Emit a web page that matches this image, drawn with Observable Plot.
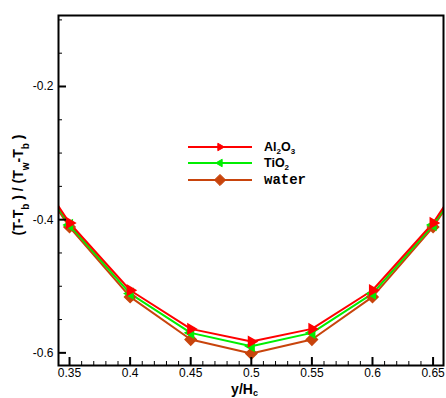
<!DOCTYPE html>
<html>
<head>
<meta charset="utf-8">
<script src="https://cdn.jsdelivr.net/npm/d3@7"></script>
<script src="https://cdn.jsdelivr.net/npm/@observablehq/plot@0.6"></script>
<style>
  html, body { margin: 0; padding: 0; background: #fff; }
  svg { display: block; }
</style>
</head>
<body>
<div id="chart"></div>
<script>
// ---- data ----
const xs = [0.30, 0.35, 0.40, 0.45, 0.50, 0.55, 0.60, 0.65, 0.70];
const al2o3 = [-0.268, -0.405, -0.506, -0.564, -0.583, -0.564, -0.506, -0.405, -0.268];
const tio2  = [-0.272, -0.408, -0.511, -0.570, -0.590, -0.570, -0.511, -0.408, -0.272];
const water = [-0.276, -0.411, -0.516, -0.580, -0.601, -0.580, -0.516, -0.411, -0.276];

const xMajor = [0.35, 0.40, 0.45, 0.50, 0.55, 0.60, 0.65];
const xMinor = [0.36, 0.37, 0.38, 0.39, 0.41, 0.42, 0.43, 0.44, 0.46, 0.47, 0.48, 0.49,
                0.51, 0.52, 0.53, 0.54, 0.56, 0.57, 0.58, 0.59, 0.61, 0.62, 0.63, 0.64];
const yMajor = [-0.6, -0.4, -0.2];
const yMinor = [-0.55, -0.5, -0.45, -0.35, -0.3, -0.25, -0.15, -0.1];
const xTickLabels = ["0.35", "0.4", "0.45", "0.5", "0.55", "0.6", "0.65"];
const yTickLabels = ["-0.6", "-0.4", "-0.2"];

const seriesNames = ["Al2O3", "TiO2", "water"];
const seriesColors = ["#ff0000", "#00ee00", "#c8440c"];

const rows = [];
xs.forEach((x, i) => {
  rows.push({x, y: al2o3[i], s: "Al2O3"});
  rows.push({x, y: tio2[i], s: "TiO2"});
  rows.push({x, y: water[i], s: "water"});
});

// ---- layout ----
const W = 446, H = 398;
const mL = 58, mR = 3, mT = 15, mB = 33;
const plotW = W - mL - mR, plotH = H - mT - mB;

const colorOf = s => seriesColors[seriesNames.indexOf(s)];

const chart = Plot.plot({
  width: W, height: H,
  marginLeft: mL, marginRight: mR, marginTop: mT, marginBottom: mB,
  style: {fontFamily: "'Liberation Sans', Arial, sans-serif", fontSize: "12px", background: "#fff"},
  x: {domain: [0.3409, 0.6586]},
  y: {domain: [-0.619, -0.0934]},
  marks: [
    ...["water", "TiO2", "Al2O3"].map(s => Plot.line(rows.filter(d => d.s === s), {
      x: "x", y: "y", stroke: colorOf(s), strokeWidth: 2, clip: true
    })),
    Plot.dot(rows.filter(d => d.s === "water"), {
      x: "x", y: "y", symbol: "diamond2", r: 5, fill: colorOf("water"), stroke: colorOf("water"), clip: true
    }),
    Plot.dot(rows.filter(d => d.s === "TiO2"), {
      x: "x", y: "y", symbol: "triangle", rotate: -90, r: 3.6, fill: colorOf("TiO2"), stroke: colorOf("TiO2"), clip: true
    }),
    Plot.dot(rows.filter(d => d.s === "Al2O3"), {
      x: "x", y: "y", symbol: "triangle", rotate: 90, r: 3.6, fill: colorOf("Al2O3"), stroke: colorOf("Al2O3"), clip: true
    }),
    // inward ticks
    Plot.tickX(xMajor, {x: d => d, insetTop: plotH - 8, stroke: "black", strokeWidth: 2}),
    Plot.tickX(xMinor, {x: d => d, insetTop: plotH - 4, stroke: "black", strokeWidth: 1}),
    Plot.tickY(yMajor, {y: d => d, insetRight: plotW - 8, stroke: "black", strokeWidth: 2}),
    Plot.tickY(yMinor, {y: d => d, insetRight: plotW - 4, stroke: "black", strokeWidth: 1}),
    Plot.axisX({ticks: xMajor, tickSize: 0, tickPadding: 3, label: null,
      tickFormat: d => xTickLabels[xMajor.indexOf(d)], fontSize: 12}),
    Plot.axisY({ticks: yMajor, tickSize: 0, tickPadding: 5, label: null,
      tickFormat: d => yTickLabels[yMajor.indexOf(d)], fontSize: 12}),
    Plot.frame({stroke: "black", strokeWidth: 2})
  ]
});

document.getElementById("chart").appendChild(chart);

const svg = d3.select(chart);
const SANS = "'Liberation Sans', Arial, sans-serif";

// y title
const yt = svg.append("text")
  .attr("transform", `translate(23,185) rotate(-90)`)
  .attr("text-anchor", "middle")
  .attr("font-family", SANS)
  .attr("font-weight", "bold").attr("font-size", 14).attr("fill", "black");
yt.append("tspan").text("(T-T");
yt.append("tspan").attr("baseline-shift", "sub").attr("font-size", 10).text("b");
yt.append("tspan").text(" ) / (T");
yt.append("tspan").attr("baseline-shift", "sub").attr("font-size", 10).text("w");
yt.append("tspan").text("-T");
yt.append("tspan").attr("baseline-shift", "sub").attr("font-size", 10).text("b");
yt.append("tspan").text(" )");

// x title
const xt = svg.append("text")
  .attr("x", mL + plotW / 2 - 6).attr("y", 394)
  .attr("text-anchor", "middle")
  .attr("font-family", SANS)
  .attr("font-weight", "bold").attr("font-size", 14).attr("fill", "black");
xt.append("tspan").text("y/H");
xt.append("tspan").attr("dy", 2).attr("font-size", 9).text("c");

// legend
const legY = [147, 163, 180];
const lx1 = 188, lx2 = 252, mx = 220, tx = 264;
const leg = svg.append("g");
seriesNames.forEach((s, i) => {
  const c = seriesColors[i];
  const y = legY[i];
  leg.append("line").attr("x1", lx1).attr("x2", lx2).attr("y1", y).attr("y2", y)
    .attr("stroke", c).attr("stroke-width", 2);
  let sym;
  if (s === "water") sym = d3.symbol(d3.symbolDiamond2, 80)();
  else sym = d3.symbol(d3.symbolTriangle2, 40)();
  const rot = s === "Al2O3" ? 90 : s === "TiO2" ? -90 : 0;
  leg.append("path").attr("d", sym).attr("transform", `translate(${mx},${y}) rotate(${rot})`)
    .attr("fill", c).attr("stroke", c);
});
function legText(i, base) {
  return leg.append("text").attr("x", tx).attr("y", base)
    .attr("text-anchor", "start")
    .attr("font-family", SANS)
    .attr("font-weight", "bold").attr("font-size", 12.5).attr("fill", "black");
}
const t0 = legText(0, 151);
t0.append("tspan").text("Al");
t0.append("tspan").attr("dy", 3).attr("font-size", 8).text("2");
t0.append("tspan").attr("dy", -3).text("O");
t0.append("tspan").attr("dy", 3).attr("font-size", 8).text("3");
const t1 = legText(1, 167);
t1.append("tspan").text("TiO");
t1.append("tspan").attr("dy", 3).attr("font-size", 8).text("2");
legText(2, 184).attr("font-family", "'Liberation Mono', 'Courier New', monospace").attr("font-size", 14).text("water");
</script>
</body>
</html>
